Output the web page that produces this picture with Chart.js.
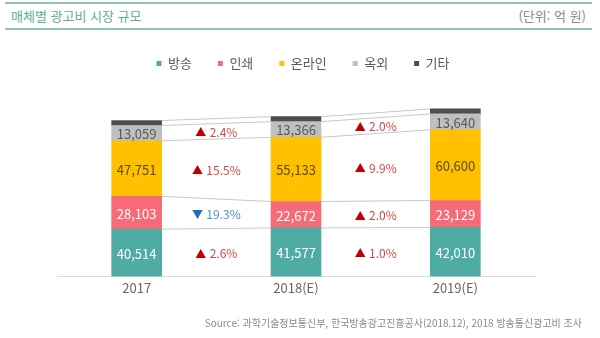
<!DOCTYPE html>
<html lang="ko">
<head>
<meta charset="utf-8">
<title>매체별 광고비 시장 규모</title>
<script src="https://cdn.jsdelivr.net/npm/chart.js@4.4.0/dist/chart.umd.min.js"></script>
<style>
    body {
        margin: 0;
        width: 600px;
        height: 338px;
        position: relative;
        overflow: hidden;
        background: #fff;
        font-family: "Noto Sans CJK KR", "Noto Sans", sans-serif;
    }
    .rule {
        position: absolute;
        left: 5px;
        width: 587px;
        height: 2px;
        background: #8dc6ad;
    }
    #title {
        position: absolute;
        left: 11px;
        top: 7px;
        font-size: 13px;
        line-height: 18px;
        color: #5fae8e;
    }
    #unit {
        position: absolute;
        right: 14px;
        top: 7px;
        font-size: 13px;
        line-height: 18px;
        color: #8a8a8a;
    }
    #source {
        position: absolute;
        right: 18px;
        top: 316px;
        font-size: 10px;
        line-height: 14px;
        color: #8a8a8a;
    }
    #ourChart {
        position: absolute;
        left: 0;
        top: 0;
    }
</style>
</head>
<body>
<div class="rule" style="top:2px"></div>
<div id="title">매체별 광고비 시장 규모</div>
<div id="unit">(단위: 억 원)</div>
<div class="rule" style="top:28px"></div>
<canvas id="ourChart" width="600" height="338"></canvas>
<div id="source">Source: 과학기술정보통신부, 한국방송광고진흥공사(2018.12), 2018 방송통신광고비 조사</div>

<script>
// 연도별 매체 광고비 (억 원)
const years = ['2017', '2018(E)', '2019(E)'];
const broadcast = [40514, 41577, 42010];
const print = [28103, 22672, 23129];
const online = [47751, 55133, 60600];
const outdoor = [13059, 13366, 13640];
const other = [4300, 4300, 4300];

// 전년 대비 증감률 (%)
const broadcastGrowth = [2.6, 1.0];
const printGrowth = [-19.3, 2.0];
const onlineGrowth = [15.5, 9.9];
const outdoorGrowth = [2.4, 2.0];

const fontFamily = '"Noto Sans CJK KR", "Noto Sans", sans-serif';

// 범례를 캔버스 가운데 쪽으로 살짝 이동
const legendShift = {
    id: 'legendShift',
    afterLayout(chart) {
        chart.legend.left += 7;
        chart.legend.right += 7;
    }
};

// 막대 사이 연결선, 막대 안 수치, 증감률 표시
const barNotes = {
    id: 'barNotes',
    afterDatasetsDraw(chart) {
        const ctx = chart.ctx;
        ctx.save();
        chart.data.datasets.forEach((ds, d) => {
            const bars = chart.getDatasetMeta(d).data;

            ctx.strokeStyle = '#c8c8c8';
            ctx.lineWidth = 1;
            for (let i = 0; i < bars.length - 1; i++) {
                const a = bars[i], b = bars[i + 1];
                ctx.beginPath();
                ctx.moveTo(a.x + a.width / 2, a.y);
                ctx.lineTo(b.x - b.width / 2, b.y);
                ctx.stroke();
            }

            if (ds.valueColor) {
                ctx.font = '13px ' + fontFamily;
                ctx.fillStyle = ds.valueColor;
                ctx.textAlign = 'center';
                ctx.textBaseline = 'middle';
                bars.forEach((bar, i) => {
                    ctx.fillText(ds.data[i].toLocaleString('en-US'), bar.x, (bar.y + bar.base) / 2 + 1);
                });
            }

            if (ds.growth) {
                ds.growth.forEach((g, i) => {
                    const a = bars[i], b = bars[i + 1];
                    const x = (a.x + b.x) / 2;
                    const y = ((a.y + a.base) / 2 + (b.y + b.base) / 2) / 2 + 1;
                    const up = g >= 0;
                    const mark = up ? '▲' : '▼';
                    const txt = ' ' + Math.abs(g).toFixed(1) + '%';
                    ctx.textBaseline = 'middle';
                    ctx.textAlign = 'left';
                    ctx.font = '11px ' + fontFamily;
                    const wm = ctx.measureText(mark).width;
                    ctx.font = '12px ' + fontFamily;
                    const wt = ctx.measureText(txt).width;
                    const sx = x - (wm + wt) / 2;
                    ctx.font = '11px ' + fontFamily;
                    ctx.fillStyle = up ? '#c00000' : '#1f6fbf';
                    ctx.fillText(mark, sx, y);
                    ctx.font = '12px ' + fontFamily;
                    ctx.fillStyle = up ? '#d04a4a' : '#4a8fd0';
                    ctx.fillText(txt, sx + wm, y);
                });
            }
        });
        ctx.restore();
    }
};

const chartElement = new Chart(document.getElementById('ourChart'), {
    type: 'bar',
    data: {
        labels: years,
        datasets: [
            {
                label: '방송',
                data: broadcast,
                backgroundColor: '#4eaca5',
                valueColor: '#ffffff',
                growth: broadcastGrowth
            },
            {
                label: '인쇄',
                data: print,
                backgroundColor: '#f76b78',
                valueColor: '#ffffff',
                growth: printGrowth
            },
            {
                label: '온라인',
                data: online,
                backgroundColor: '#ffc000',
                valueColor: '#5e4a0c',
                growth: onlineGrowth
            },
            {
                label: '옥외',
                data: outdoor,
                backgroundColor: '#bfbfbf',
                valueColor: '#595959',
                growth: outdoorGrowth
            },
            {
                label: '기타',
                data: other,
                backgroundColor: '#4d4d4d'
            }
        ]
    },
    options: {
        responsive: false,
        animation: false,
        barThickness: 50,
        layout: {
            padding: { top: 31, left: 57, right: 65, bottom: 38 }
        },
        plugins: {
            legend: {
                position: 'top',
                labels: {
                    boxWidth: 5,
                    boxHeight: 5,
                    padding: 26,
                    color: '#595959',
                    font: { family: fontFamily, size: 13 }
                }
            },
            tooltip: { enabled: false }
        },
        scales: {
            x: {
                stacked: true,
                grid: { display: false, drawTicks: false },
                border: { display: true, color: '#d9d9d9' },
                ticks: {
                    padding: 4,
                    color: '#666666',
                    font: { family: fontFamily, size: 13 }
                }
            },
            y: {
                stacked: true,
                display: false,
                min: 0,
                max: 168500
            }
        }
    },
    plugins: [legendShift, barNotes]
});
</script>
</body>
</html>
